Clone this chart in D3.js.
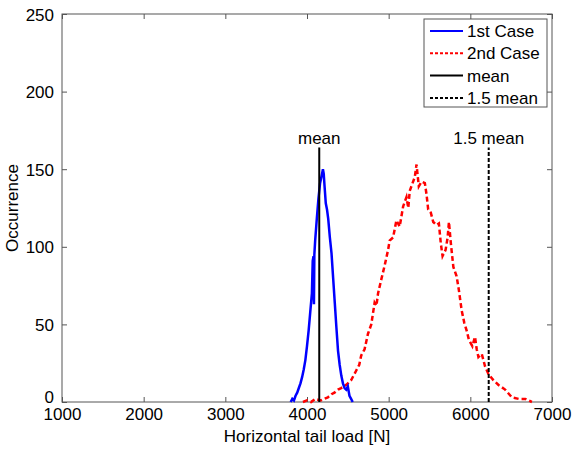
<!DOCTYPE html>
<html>
<head>
<meta charset="utf-8">
<script src="https://cdn.jsdelivr.net/npm/d3@7"></script>
<style>
  body { margin: 0; background: #fff; }
  text { font-family: "Liberation Sans", Arial, sans-serif; }
</style>
</head>
<body>
<div id="chart-area"></div>
<script>
// histogram 1st case: load [N] and occurrence
const case1_load = [3800, 3820, 3840, 3860, 3880, 3900, 3920, 3940, 3960, 3980, 4000, 4020, 4040, 4060, 4070, 4080, 4085, 4090, 4100, 4120, 4140, 4160, 4180, 4195, 4205, 4215, 4230, 4245, 4260, 4280, 4300, 4320, 4340, 4360, 4380, 4400, 4420, 4440, 4460, 4480, 4500, 4520, 4540, 4560];
const case1_count = [0, 2, 1, 4, 6, 9, 12, 16, 21, 27, 36, 46, 58, 70, 91, 94, 63, 95, 104, 118, 131, 141, 146, 150, 147, 139, 128, 124, 118, 106, 96, 80, 64, 48, 33, 24, 17, 12, 9, 8, 10, 4, 2, 0];

// histogram 2nd case
const case2_load = [3950, 4000, 4050, 4100, 4170, 4255, 4300, 4336, 4380, 4418, 4480, 4540, 4600, 4640, 4664, 4705, 4747, 4787, 4828, 4850, 4870, 4910, 4951, 4993, 5012, 5054, 5095, 5135, 5177, 5218, 5240, 5258, 5279, 5320, 5341, 5369, 5402, 5443, 5463, 5484, 5516, 5546, 5586, 5615, 5639, 5660, 5697, 5722, 5738, 5762, 5792, 5832, 5860, 5894, 5926, 5955, 5983, 6025, 6057, 6078, 6099, 6140, 6180, 6222, 6284, 6345, 6426, 6509, 6591, 6672, 6754];
const case2_count = [0, 1, 0, 2, 1, 3, 5, 6, 8, 9, 11, 14, 20, 24, 30, 34, 44, 50, 64, 62, 70, 79, 88, 98, 104, 106, 117, 113, 126, 132, 125, 136, 139, 145, 153, 139, 142, 141, 134, 124, 122, 116, 114, 115, 102, 94, 98, 106, 116, 102, 87, 81, 72, 59, 51, 46, 40, 36, 42, 34, 29, 31, 23, 18, 14, 11, 8, 3, 2, 2, 0];

const mean_load = 4150;
const mean15_load = 6225;
const mean_height = 164;

const x_ticks = [1000, 2000, 3000, 4000, 5000, 6000, 7000];
const y_ticks = [0, 50, 100, 150, 200, 250];

const legend_labels = ["1st Case", "2nd Case", "mean", "1.5 mean"];

let margin = { left: 62, right: 20, top: 14, bottom: 47 };
let width = 572 - margin.left - margin.right;
let height = 449 - margin.top - margin.bottom;

let svg = d3.select("#chart-area")
  .append("svg")
    .attr("width", 572)
    .attr("height", 449);

let group = svg.append("g")
  .attr("transform", `translate(${margin.left}, ${margin.top})`);

let x = d3.scaleLinear().domain([1000, 7000]).range([0, width]);
let y = d3.scaleLinear().domain([0, 250]).range([height, 0]);

const axis_color = "#555";
const font_size = "17px";

// ----------------- Box + ticks -----------------
group.append("rect")
  .attr("width", width)
  .attr("height", height)
  .attr("fill", "none")
  .attr("stroke", axis_color)
  .attr("stroke-width", 1);

let x_axis = group.append("g")
  .attr("transform", `translate(0, ${height})`)
  .call(d3.axisBottom(x).tickValues(x_ticks).tickFormat(d3.format("d"))
    .tickSizeInner(-5).tickSizeOuter(0).tickPadding(8));
let x_axis_top = group.append("g")
  .call(d3.axisTop(x).tickValues(x_ticks).tickSizeInner(-5).tickSizeOuter(0).tickFormat(""));
let y_axis = group.append("g")
  .call(d3.axisLeft(y).tickValues(y_ticks).tickFormat(d3.format("d"))
    .tickSizeInner(-5).tickSizeOuter(0).tickPadding(8));
let y_axis_right = group.append("g")
  .attr("transform", `translate(${width}, 0)`)
  .call(d3.axisRight(y).tickValues(y_ticks).tickSizeInner(-5).tickSizeOuter(0).tickFormat(""));

for (let ax of [x_axis, x_axis_top, y_axis, y_axis_right]) {
  ax.select(".domain").remove();
  ax.selectAll("line").attr("stroke", axis_color);
  ax.selectAll("text").attr("fill", "#000").attr("font-size", font_size)
    .attr("font-family", "Liberation Sans, Arial, sans-serif");
}
x_axis.selectAll("text").attr("dy", "0.6em");
y_axis.selectAll("text").attr("dy", "0.36em");
// "0" on y axis sits a bit above the corner like matlab
y_axis.selectAll(".tick").filter(d => d === 0).select("text").attr("dy", "0em");

// ----------------- Labels -----------------
group.append("text")
  .attr("x", width / 2)
  .attr("y", height + 40)
  .attr("font-size", font_size)
  .attr("text-anchor", "middle")
  .text("Horizontal tail load [N]");

group.append("text")
  .attr("x", -height / 2)
  .attr("y", -44)
  .attr("font-size", font_size)
  .attr("text-anchor", "middle")
  .attr("transform", "rotate(-90)")
  .text("Occurrence");

// ----------------- Curves -----------------
let line = d3.line().x(d => x(d[0])).y(d => y(d[1]));

group.append("path")
  .datum(d3.zip(case2_load, case2_count))
  .attr("d", line)
  .attr("fill", "none")
  .attr("stroke", "#ff0000")
  .attr("stroke-width", 2.5)
  .attr("stroke-dasharray", "5,3");

group.append("path")
  .datum(d3.zip(case1_load, case1_count))
  .attr("d", line)
  .attr("fill", "none")
  .attr("stroke", "#0000ff")
  .attr("stroke-width", 2.5);

// mean lines
group.append("line")
  .attr("x1", x(mean_load)).attr("x2", x(mean_load))
  .attr("y1", y(0)).attr("y2", y(mean_height))
  .attr("stroke", "#000").attr("stroke-width", 2);
group.append("line")
  .attr("x1", x(mean15_load)).attr("x2", x(mean15_load))
  .attr("y1", y(0)).attr("y2", y(mean_height))
  .attr("stroke", "#000").attr("stroke-width", 2)
  .attr("stroke-dasharray", "4,2");

group.append("text")
  .attr("x", x(mean_load))
  .attr("y", y(mean_height) - 3)
  .attr("font-size", font_size)
  .attr("text-anchor", "middle")
  .text("mean");
group.append("text")
  .attr("x", x(mean15_load))
  .attr("y", y(mean_height) - 3)
  .attr("font-size", font_size)
  .attr("text-anchor", "middle")
  .text("1.5 mean");

// ----------------- Legend -----------------
let legend = svg.append("g").attr("transform", "translate(424, 19)");
legend.append("rect")
  .attr("width", 123)
  .attr("height", 88)
  .attr("fill", "#fff")
  .attr("stroke", axis_color);

const legend_styles = [
  { color: "#0000ff", dash: null },
  { color: "#ff0000", dash: "3,2" },
  { color: "#000", dash: null },
  { color: "#000", dash: "3,2" }
];

legend_labels.forEach((label, i) => {
  let yy = 12 + i * 22.3;
  legend.append("line")
    .attr("x1", 6).attr("x2", 39)
    .attr("y1", yy).attr("y2", yy)
    .attr("stroke", legend_styles[i].color)
    .attr("stroke-width", 2)
    .attr("stroke-dasharray", legend_styles[i].dash);
  legend.append("text")
    .attr("x", 43)
    .attr("y", yy)
    .attr("dy", "0.36em")
    .attr("font-size", font_size)
    .text(label);
});
</script>
</body>
</html>
